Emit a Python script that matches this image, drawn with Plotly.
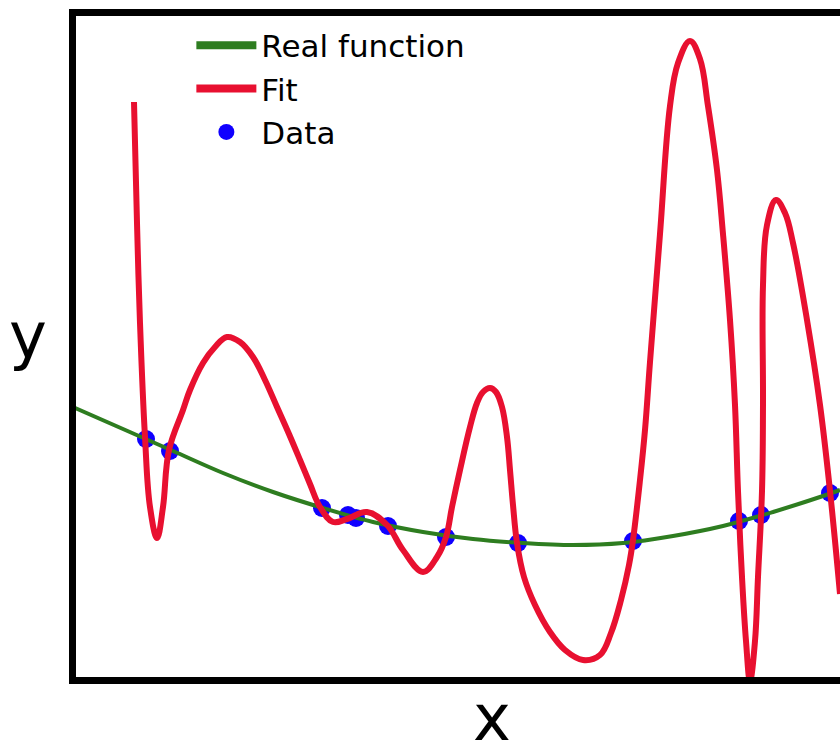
import plotly.graph_objects as go

# Sample points (x, y) of the noisy observations
data_x = [0.73, 0.97, 2.49, 2.75, 2.83, 3.15, 3.73, 4.45, 5.60, 6.66, 6.88, 7.57]
data_y = [2.41, 2.29, 1.72, 1.65, 1.62, 1.54, 1.43, 1.37, 1.39, 1.59, 1.65, 1.87]

# Underlying smooth trend
real_x = [0.00, 0.50, 1.00, 1.50, 2.00, 2.50, 3.00, 3.50, 4.00, 4.50, 5.00,
          5.50, 6.00, 6.50, 7.00, 7.50, 7.67]
real_y = [2.73, 2.51, 2.29, 2.07, 1.88, 1.72, 1.58, 1.48, 1.41, 1.37, 1.35,
          1.37, 1.44, 1.54, 1.68, 1.84, 1.90]

# High-order polynomial fit that passes through every sample
fit_x = [0.61, 0.64, 0.67, 0.72, 0.77, 0.84, 0.90, 0.96, 1.10, 1.17,
         1.30, 1.42, 1.54, 1.67, 1.80, 1.92, 2.04, 2.16, 2.27, 2.37,
         2.47, 2.60, 2.74, 2.94, 3.14, 3.30, 3.50, 3.64, 3.73, 3.79,
         3.87, 3.97, 4.04, 4.10, 4.17, 4.23, 4.29, 4.34, 4.37, 4.40,
         4.44, 4.51, 4.62, 4.77, 4.92, 5.10, 5.27, 5.38, 5.48, 5.56,
         5.60, 5.67, 5.72, 5.77, 5.87, 5.97, 6.05, 6.17, 6.27, 6.35,
         6.44, 6.50, 6.57, 6.62, 6.65, 6.69, 6.73, 6.77, 6.82, 6.85,
         6.89, 6.90, 6.90, 6.94, 7.03, 7.12, 7.20, 7.34, 7.47, 7.57,
         7.67]
fit_y = [5.78, 4.57, 3.57, 2.43, 1.73, 1.42, 1.73, 2.30, 2.70, 2.90,
         3.17, 3.33, 3.43, 3.38, 3.23, 3.00, 2.73, 2.46, 2.20, 1.96,
         1.73, 1.58, 1.61, 1.68, 1.55, 1.30, 1.08, 1.23, 1.43, 1.73,
         2.10, 2.53, 2.77, 2.88, 2.92, 2.88, 2.73, 2.43, 2.10, 1.75,
         1.37, 1.03, 0.75, 0.48, 0.30, 0.20, 0.25, 0.47, 0.80, 1.15,
         1.40, 2.00, 2.50, 3.18, 4.46, 5.74, 6.17, 6.39, 6.21, 5.74,
         5.10, 4.46, 3.60, 2.75, 1.89, 1.03, 0.39, -0.01, 0.39, 1.03,
         1.89, 2.75, 3.95, 4.55, 4.80, 4.67, 4.37, 3.60, 2.75, 1.89,
         0.86]

GREEN = "#2E7D20"
RED = "#E81030"
BLUE = "#1000FF"
FONT = "DejaVu Sans"

fig = go.Figure()

# Plotted marks (drawn bottom to top: data, real function, fit)
fig.add_trace(go.Scatter(
    x=data_x, y=data_y, mode="markers", name="Data", showlegend=False,
    marker=dict(color=BLUE, size=18, line=dict(width=0)),
))
fig.add_trace(go.Scatter(
    x=real_x, y=real_y, mode="lines", name="Real function", showlegend=False,
    line=dict(color=GREEN, width=4, shape="spline", smoothing=1.0),
))
fig.add_trace(go.Scatter(
    x=fit_x, y=fit_y, mode="lines", name="Fit", showlegend=False,
    line=dict(color=RED, width=6, shape="spline", smoothing=1.1),
))

# Legend entries with heavier keys
fig.add_trace(go.Scatter(x=[None], y=[None], mode="lines", name="Real function",
                         line=dict(color=GREEN, width=8)))
fig.add_trace(go.Scatter(x=[None], y=[None], mode="lines", name="Fit",
                         line=dict(color=RED, width=8)))
fig.add_trace(go.Scatter(x=[None], y=[None], mode="markers", name="Data",
                         marker=dict(color=BLUE, size=18, line=dict(width=0))))

fig.update_layout(
    width=840, height=742,
    margin=dict(l=76, r=0, t=16, b=65),
    plot_bgcolor="white", paper_bgcolor="white",
    font=dict(family=FONT, color="black"),
    showlegend=True,
    legend=dict(
        x=0.151, y=0.996, xanchor="left", yanchor="top",
        font=dict(size=31, family=FONT),
        bgcolor="rgba(0,0,0,0)", borderwidth=0,
        itemwidth=60, tracegroupgap=0,
    ),
    xaxis=dict(
        range=[0.03, 7.67], showgrid=False, zeroline=False,
        showticklabels=False, ticks="",
        showline=True, linecolor="black", linewidth=7, mirror=True,
    ),
    yaxis=dict(
        range=[0.03, 6.64], showgrid=False, zeroline=False,
        showticklabels=False, ticks="",
        showline=True, linecolor="black", linewidth=7,
    ),
    annotations=[
        dict(text="x", xref="x", x=4.19, yref="paper", y=0,
             xanchor="center", yanchor="top", yshift=-2, showarrow=False,
             font=dict(size=64, family=FONT, color="black")),
        dict(text="y", xref="paper", x=0, xshift=-48, yref="y", y=3.44,
             xanchor="center", yanchor="middle", showarrow=False,
             font=dict(size=64, family=FONT, color="black")),
    ],
)

fig.write_html("out.html", config={"displayModeBar": False})
